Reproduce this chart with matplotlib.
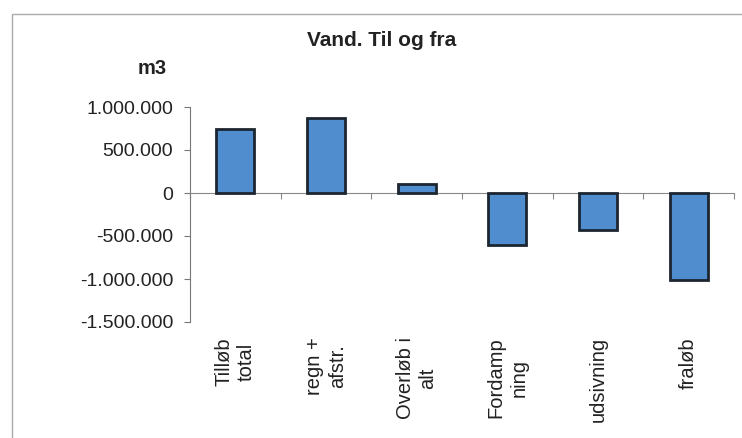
import matplotlib
matplotlib.use("Agg")
import matplotlib.pyplot as plt
from matplotlib.patches import Rectangle
from matplotlib.ticker import FuncFormatter

plt.rcParams['font.family'] = ['Liberation Sans', 'DejaVu Sans']

# data (m3)
categories = ["Tilløb\ntotal", "regn +\nafstr.", "Overløb i\nalt", "Fordamp\nning", "udsivning", "fraløb"]
values = [750000, 870000, 110000, -610000, -430000, -1010000]
yticks = [-1500000, -1000000, -500000, 0, 500000, 1000000]

fig = plt.figure(figsize=(7.42, 4.38), dpi=100)
ax = fig.add_axes([190/742, 1 - 322/438, (734 - 190)/742, (322 - 107)/438])

x = list(range(len(categories)))
ax.bar(x, values, width=0.42, color='#4f8dcf', edgecolor='#1c2530', linewidth=2.0, zorder=3)

ax.set_xlim(-0.5, len(categories) - 0.5)
ax.set_ylim(yticks[0], yticks[-1])
ax.set_yticks(yticks)
ax.yaxis.set_major_formatter(FuncFormatter(lambda v, p: f"{int(v):,}".replace(",", ".")))
ax.tick_params(axis='y', direction='out', length=4, width=0.8, color='#777777',
               labelsize=14, pad=8, labelcolor='#222222')

# x axis line at zero with tick marks between categories
ax.spines['bottom'].set_position(('data', 0))
ax.spines['bottom'].set_color('#888888')
ax.spines['bottom'].set_linewidth(0.8)
ax.set_xticks([i - 0.5 for i in range(len(categories) + 1)])
ax.set_xticklabels([])
ax.tick_params(axis='x', direction='out', length=4, width=0.8, color='#888888')
ax.spines['left'].set_color('#777777')
ax.spines['left'].set_linewidth(0.8)
ax.spines['top'].set_visible(False)
ax.spines['right'].set_visible(False)

# category labels at the bottom
sec = ax.secondary_xaxis(0)
sec.set_xticks(x)
sec.set_xticklabels(categories, rotation=90, fontsize=14.5, color='#222222',
                    multialignment='center', linespacing=1.25)
sec.tick_params(length=0, pad=11)
sec.spines['bottom'].set_visible(False)

fig.text(382/742, 1 - 41/438, "Vand. Til og fra", ha='center', va='center',
         fontsize=15, fontweight='bold', color='#222222')
fig.text(152/742, 1 - 68/438, "m3", ha='center', va='center',
         fontsize=14.5, fontweight='bold', color='#222222')

# chart frame
fig.add_artist(Rectangle((12/742, -0.2), 1.2, 1 - 14/438 + 0.2, transform=fig.transFigure,
                         fill=False, edgecolor='#aaaaaa', linewidth=1.0, clip_on=False))

fig.savefig("out.png", dpi=100)
